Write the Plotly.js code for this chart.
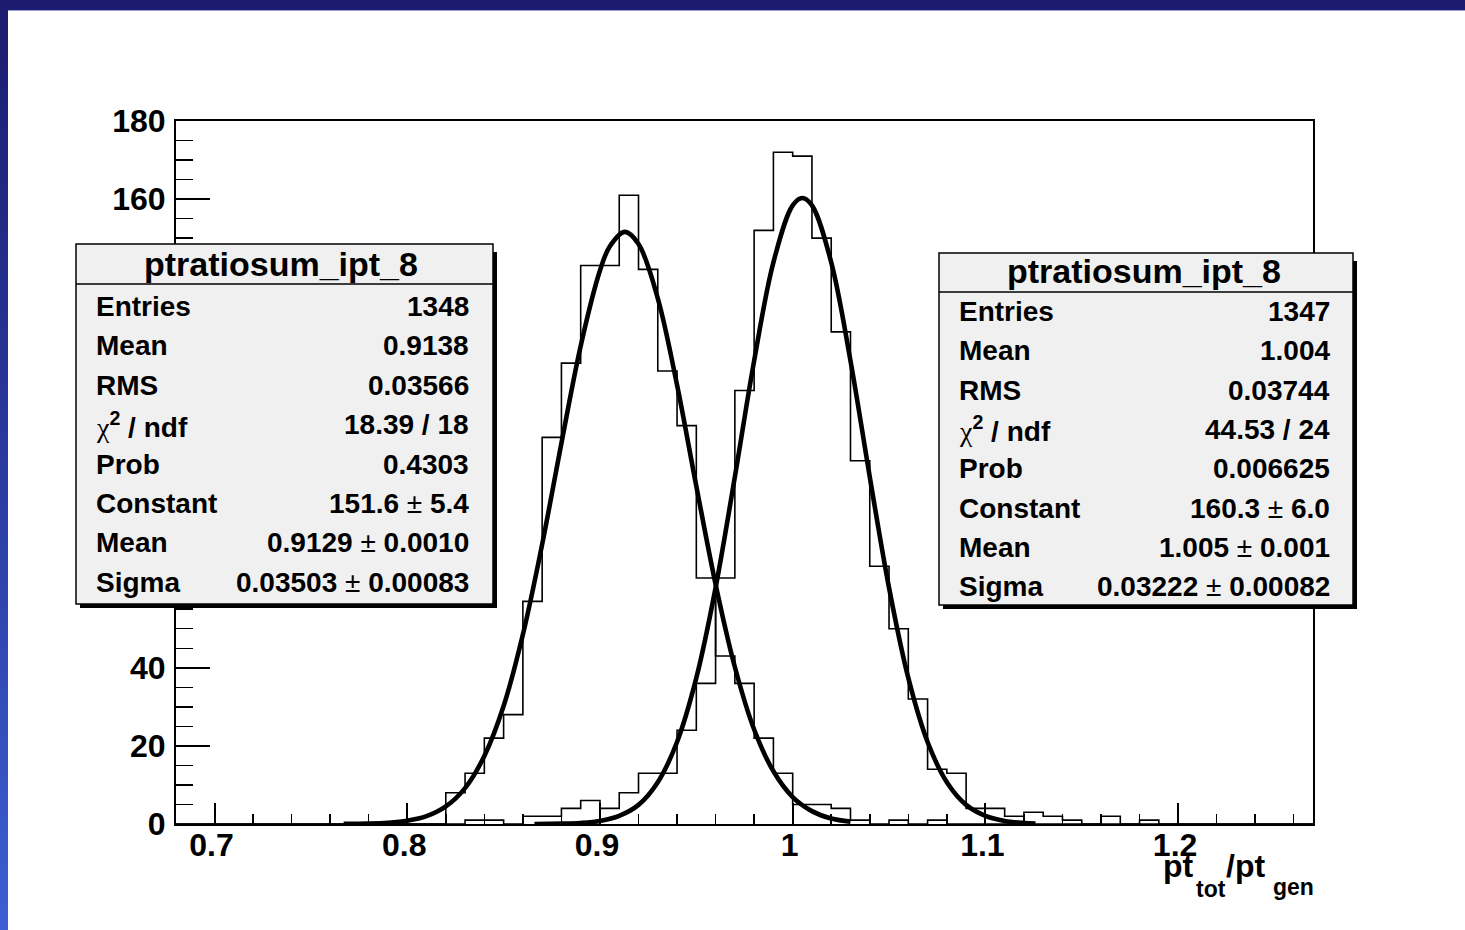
<!DOCTYPE html>
<html>
<head>
<meta charset="utf-8">
<script src="https://cdn.plot.ly/plotly-3.0.1.min.js"></script>
<style>
  html, body { margin:0; padding:0; }
  body { width:1465px; height:930px; overflow:hidden; position:relative;
         background: linear-gradient(to bottom, #1b1b6f 0%, #2a3a9e 50%, #3c5fd3 100%); }
  #topbar { position:absolute; left:0; top:0; width:1465px; height:10px; background:#1b1b72; }
  #white { position:absolute; left:8px; top:10px; width:1457px; height:920px; background:#ffffff;
           border-top:1px solid #a0a0d8; box-sizing:border-box; }
  #plot { position:absolute; left:0; top:0; width:1465px; height:930px; }
</style>
</head>
<body>
<div id="topbar"></div>
<div id="white"></div>
<div id="plot"></div>
<script>
// ---------------- data ----------------
const histRange = [0.68, 1.27];
const binWidth = 0.01;

// left histogram (ptratiosum_ipt_8, 1348 entries): counts from first bin on
const leftFirstBin = 0.82;
const leftCounts = [8, 13, 22, 28, 57, 99, 118, 143, 143, 161, 142, 116, 102, 63, 43, 36, 22, 13, 5, 5, 4, 1, 0, 1, 0, 1];

// right histogram (ptratiosum_ipt_8, 1347 entries)
const rightFirstBin = 0.83;
const rightCounts = [1, 1, 0, 2, 2, 4, 6, 4, 8, 13, 13, 24, 36, 63, 111, 152, 172, 171, 150, 126, 93, 66, 50, 32, 14, 13, 4, 4, 2, 3, 2, 1, 0, 2, 0, 1];

// fitted gaussian curves
const leftFitX = [0.767, 0.78, 0.79, 0.80, 0.81, 0.82, 0.83, 0.84, 0.85, 0.86, 0.87, 0.88, 0.89, 0.90, 0.905, 0.9129, 0.92, 0.93, 0.94, 0.95, 0.96, 0.97, 0.98, 0.99, 1.00, 1.01, 1.02, 1.03];
const leftFitY = [0.03, 0.11, 0.32, 0.84, 2.0, 4.5, 9.2, 17.4, 30.2, 48.5, 71.6, 97.5, 122.4, 141.7, 147.8, 151.6, 148.5, 134.6, 112.4, 86.5, 61.4, 40.2, 24.2, 13.5, 6.9, 3.3, 1.4, 0.6];
const rightFitX = [0.866, 0.88, 0.89, 0.90, 0.91, 0.92, 0.93, 0.94, 0.95, 0.96, 0.97, 0.98, 0.99, 1.00, 1.005, 1.01, 1.02, 1.03, 1.04, 1.05, 1.06, 1.07, 1.08, 1.09, 1.10, 1.11, 1.12, 1.126];
const rightFitY = [0.01, 0.09, 0.27, 0.79, 2.1, 4.9, 10.7, 21.0, 37.4, 60.5, 88.9, 118.6, 143.8, 158.4, 160.3, 158.4, 143.8, 118.6, 88.9, 60.5, 37.4, 21.0, 10.7, 4.9, 2.1, 0.79, 0.27, 0.14];

// axis ticks (labels 60..140 lie hidden behind the left stat box in the reference)
const xTickVals = [0.7, 0.8, 0.9, 1.0, 1.1, 1.2];
const xTickText = ['0.7', '0.8', '0.9', '1', '1.1', '1.2'];
const yTickVals = [0, 20, 40, 160, 180];
const yTickText = ['0', '20', '40', '160', '180'];

// statistics boxes
const statTitle = 'ptratiosum_ipt_8';
const statLabels = ['Entries', 'Mean', 'RMS', 'χ² / ndf', 'Prob', 'Constant', 'Mean', 'Sigma'];
const leftStatValues = ['1348', '0.9138', '0.03566', '18.39 / 18', '0.4303', '151.6 ± 5.4', '0.9129 ± 0.0010', '0.03503 ± 0.00083'];
const rightStatValues = ['1347', '1.004', '0.03744', '44.53 / 24', '0.006625', '160.3 ± 6.0', '1.005 ± 0.001', '0.03222 ± 0.00082'];

// ---------------- build step outlines ----------------
const nBins = Math.round((histRange[1] - histRange[0]) / binWidth);
function stepOutline(firstBin, counts) {
  const first = Math.round((firstBin - histRange[0]) / binWidth);
  const xs = [], ys = [];
  for (let i = 0; i <= nBins; i++) {
    xs.push(+(histRange[0] + i * binWidth).toFixed(4));
    const k = i - first;
    ys.push(i < nBins && k >= 0 && k < counts.length ? counts[k] : 0);
  }
  return {x: xs, y: ys};
}
const hl = stepOutline(leftFirstBin, leftCounts);
const hr = stepOutline(rightFirstBin, rightCounts);

const traces = [
  {type: 'scatter', mode: 'lines', x: hl.x, y: hl.y, line: {shape: 'hv', color: '#000', width: 1.6}, hoverinfo: 'skip'},
  {type: 'scatter', mode: 'lines', x: hr.x, y: hr.y, line: {shape: 'hv', color: '#000', width: 1.6}, hoverinfo: 'skip'},
  {type: 'scatter', mode: 'lines', x: leftFitX, y: leftFitY, line: {shape: 'spline', smoothing: 1, color: '#000', width: 4.6}, hoverinfo: 'skip'},
  {type: 'scatter', mode: 'lines', x: rightFitX, y: rightFitY, line: {shape: 'spline', smoothing: 1, color: '#000', width: 4.6}, hoverinfo: 'skip'}
];

// ---------------- layout helpers (pixel -> paper) ----------------
const PL = 176, PR = 1313, PT = 121, PB = 824;
const px = x => (x - PL) / (PR - PL);
const py = y => (PB - y) / (PB - PT);

const FONT = 'Liberation Sans, Arial, Helvetica, sans-serif';
const shapes = [];
const annotations = [];

function fmtValue(v) {
  return v.replace(' ± ', '<span style="font-weight:normal"> ± </span>');
}
function fmtLabel(l) {
  if (l.indexOf('χ²') === 0) {
    return '<span style="font-family:Liberation Serif;font-weight:normal">χ</span><sup>2</sup> / ndf';
  }
  return l;
}

function statBox(b, values) {
  shapes.push({type: 'rect', xref: 'paper', yref: 'paper', layer: 'above',
    x0: px(b.x0 + 4), x1: px(b.x1 + 4), y0: py(b.y0 + 8), y1: py(b.y1 + 4),
    fillcolor: '#000', line: {width: 0}});
  shapes.push({type: 'rect', xref: 'paper', yref: 'paper', layer: 'above',
    x0: px(b.x0), x1: px(b.x1), y0: py(b.y0), y1: py(b.y1),
    fillcolor: '#f0f0f0', line: {color: '#000', width: 1.5}});
  shapes.push({type: 'line', xref: 'paper', yref: 'paper', layer: 'above',
    x0: px(b.x0), x1: px(b.x1), y0: py(b.sep), y1: py(b.sep),
    line: {color: '#000', width: 1.5}});
  annotations.push({xref: 'paper', yref: 'paper', x: px(b.tx), y: py(b.ty),
    xanchor: 'center', yanchor: 'middle', showarrow: false, text: statTitle,
    font: {family: FONT, size: 34, color: '#000', weight: 'bold'}});
  statLabels.forEach((lab, i) => {
    const yc = b.row0 + i * b.dy;
    annotations.push({xref: 'paper', yref: 'paper', x: px(b.lx), y: py(yc), xanchor: 'left', yanchor: 'middle',
      showarrow: false, text: fmtLabel(lab), font: {family: FONT, size: 28, color: '#000', weight: 'bold'}});
    annotations.push({xref: 'paper', yref: 'paper', x: px(b.rx), y: py(yc), xanchor: 'right', yanchor: 'middle',
      showarrow: false, text: fmtValue(values[i]), font: {family: FONT, size: 28, color: '#000', weight: 'bold'}});
  });
}

statBox({x0: 76, x1: 493, y0: 244, y1: 604, sep: 284, tx: 281, ty: 264, lx: 94, rx: 471, row0: 306.5, dy: 39.4}, leftStatValues);
statBox({x0: 939, x1: 1353, y0: 253, y1: 605, sep: 292, tx: 1144, ty: 271, lx: 957, rx: 1332, row0: 311.5, dy: 39.3}, rightStatValues);

// x-axis title  pt_tot / pt_gen
const titleParts = [
  {t: 'pt', x: 1161, y: 866, s: 32},
  {t: 'tot', x: 1194, y: 889, s: 23},
  {t: '/pt', x: 1224, y: 866, s: 32},
  {t: 'gen', x: 1271, y: 887, s: 23}
];
titleParts.forEach(p => annotations.push({xref: 'paper', yref: 'paper', x: px(p.x), y: py(p.y),
  xanchor: 'left', yanchor: 'middle', showarrow: false, text: p.t,
  font: {family: FONT, size: p.s, color: '#000', weight: 'bold'}}));

const layout = {
  width: 1465, height: 930,
  margin: {l: PL, r: 1465 - PR, t: PT, b: 930 - PB, pad: 0},
  paper_bgcolor: 'rgba(0,0,0,0)',
  plot_bgcolor: 'rgba(0,0,0,0)',
  showlegend: false,
  xaxis: {
    range: histRange, tickmode: 'array', tickvals: xTickVals, ticktext: xTickText,
    ticks: 'inside', ticklen: 21, tickwidth: 2, tickcolor: '#000',
    showline: true, linecolor: '#000', linewidth: 2, mirror: true,
    showgrid: false, zeroline: false, ticklabelstandoff: -8, ticklabelshift: -3,
    tickfont: {family: FONT, size: 32, color: '#000', weight: 'bold'},
    minor: {tickmode: 'linear', tick0: 0.7, dtick: 0.02, ticks: 'inside', ticklen: 10, tickwidth: 1.5, tickcolor: '#000', showgrid: false}
  },
  yaxis: {
    range: [0, 180], tickmode: 'array', tickvals: yTickVals, ticktext: yTickText,
    ticks: 'inside', ticklen: 34, tickwidth: 2, tickcolor: '#000',
    showline: true, linecolor: '#000', linewidth: 2, mirror: true,
    showgrid: false, zeroline: false, ticklabelstandoff: 2,
    tickfont: {family: FONT, size: 32, color: '#000', weight: 'bold'},
    minor: {tickmode: 'linear', tick0: 0, dtick: 5, ticks: 'inside', ticklen: 17, tickwidth: 1.5, tickcolor: '#000', showgrid: false}
  },
  shapes: shapes,
  annotations: annotations
};

Plotly.newPlot('plot', traces, layout, {staticPlot: true, displayModeBar: false});
</script>
</body>
</html>
